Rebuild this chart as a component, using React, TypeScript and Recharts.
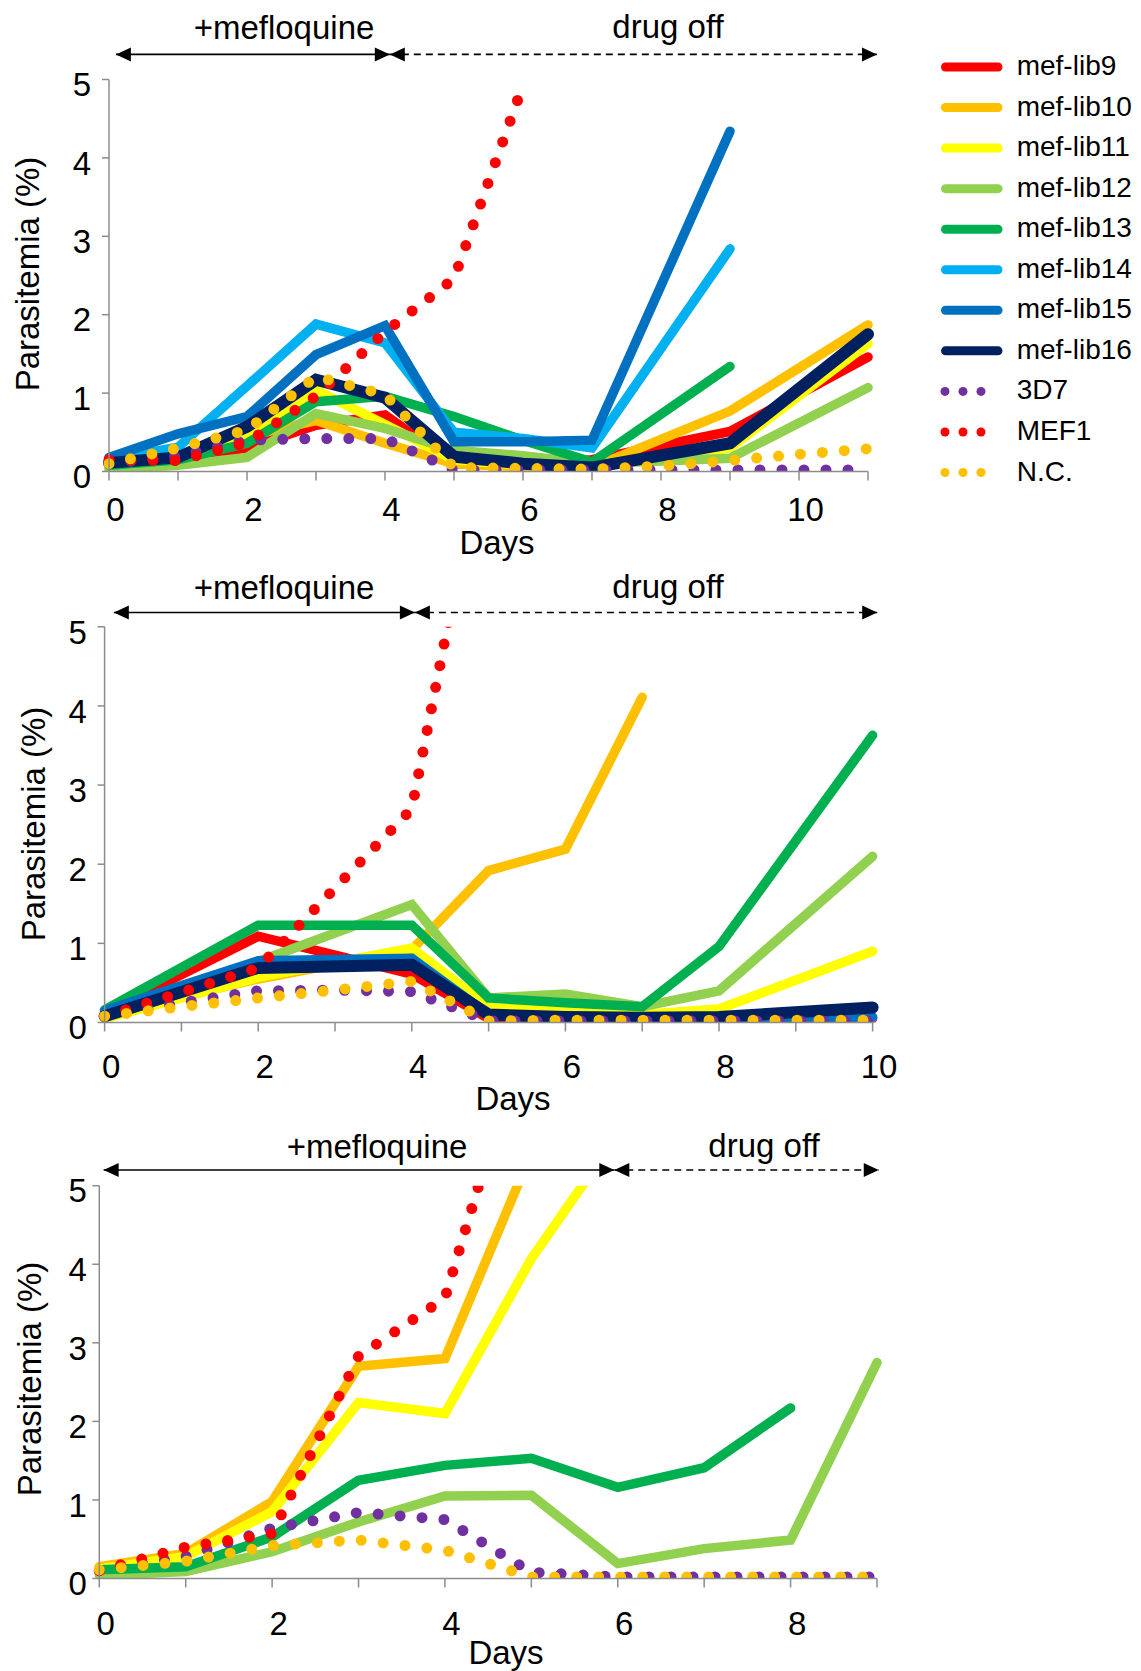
import React from 'react';
import { LineChart, Line, XAxis, YAxis, ReferenceLine, ReferenceDot } from 'recharts';

const FONT = '"Liberation Sans", Arial, Helvetica, sans-serif';
const AXIS_COLOR = '#8c8c8c';

// ---------- series meta ----------
const seriesKeys = ['lib9', 'lib10', 'lib11', 'lib12', 'lib13', 'lib14', 'lib15', 'lib16', 'd3d7', 'mef1', 'nc'];
const seriesNames = ['mef-lib9', 'mef-lib10', 'mef-lib11', 'mef-lib12', 'mef-lib13', 'mef-lib14', 'mef-lib15', 'mef-lib16', '3D7', 'MEF1', 'N.C.'];
const seriesColors = ['#FF0000', '#FFC000', '#FFFF00', '#92D050', '#00B050', '#00B0F0', '#0070C0', '#002060', '#7030A0', '#FF0000', '#FFC000'];
const seriesDotted = [false, false, false, false, false, false, false, false, true, true, true];

// ---------- panel 1 (days 0..11) ----------
const p1Days = [0, 1, 2, 3, 4, 5, 6, 7, 8, 9, 10, 11];
const p1XTicks = [0, 1, 2, 3, 4, 5, 6, 7, 8, 9, 10, 11];
const p1XLabels = [0, 2, 4, 6, 8, 10];
const p1Lib9 = [0.15, 0.15, 0.3, 0.59, 0.72, 0.1, 0.07, 0.15, null, 0.51, null, 1.46];
const p1Lib10 = [0.1, 0.15, 0.45, 0.65, 0.36, 0.1, 0.06, 0.05, null, 0.77, null, 1.87];
const p1Lib11 = [0.03, 0.1, 0.45, 1.04, 0.6, 0.15, 0.08, 0.05, null, 0.3, null, 1.63];
const p1Lib12 = [0.03, 0.08, 0.18, 0.74, 0.55, 0.27, 0.2, 0.1, null, 0.17, null, 1.07];
const p1Lib13 = [0.08, 0.15, 0.36, 0.89, 0.96, 0.7, 0.4, 0.12, null, 1.34, null, null];
const p1Lib14 = [0.15, 0.31, 1.09, 1.88, 1.64, 0.5, 0.42, 0.3, null, 2.84, null, null];
const p1Lib15 = [0.18, 0.48, 0.7, 1.49, 1.86, 0.38, 0.38, 0.4, null, 4.34, null, null];
const p1Lib16 = [0.11, 0.18, 0.57, 1.17, 0.94, 0.19, 0.1, 0.05, null, 0.36, null, 1.75];
const p1D3D7 = [0.1, 0.2, 0.4, 0.42, 0.42, 0.02, 0.02, 0.02, 0.02, 0.02, 0.02, 0.02];
const p1Mef1 = [0.15, 0.14, 0.37, 0.96, 1.78, 2.46, 4.93, null, null, null, null, null];
const p1Nc = [0.1, 0.3, 0.53, 1.21, 0.98, 0.05, 0.04, 0.03, 0.07, 0.14, 0.22, 0.29];

// ---------- panel 2 (days 0..10) ----------
const p2Days = [0, 1, 2, 3, 4, 5, 6, 7, 8, 9, 10];
const p2XTicks = [0, 1, 2, 3, 4, 5, 6, 7, 8, 9, 10];
const p2XLabels = [0, 2, 4, 6, 8, 10];
const p2Lib9 = [0.12, null, 1.09, 0.85, 0.61, 0.05, 0.04, 0.04, 0.04, null, 0.05];
const p2Lib10 = [0.1, null, 0.55, null, 0.92, 1.92, 2.19, 4.11, null, null, null];
const p2Lib11 = [0.05, null, 0.57, null, 0.94, 0.2, 0.15, 0.1, 0.17, null, 0.9];
const p2Lib12 = [0.13, null, 0.77, null, 1.49, 0.31, 0.36, 0.2, 0.4, null, 2.1];
const p2Lib13 = [0.16, null, 1.23, null, 1.23, 0.31, 0.25, 0.2, 0.96, null, 3.63];
const p2Lib14 = [0.14, null, 0.74, null, 0.78, 0.08, 0.07, 0.06, 0.06, null, 0.06];
const p2Lib15 = [0.15, null, 0.78, null, 0.81, 0.1, 0.08, 0.07, 0.06, null, 0.07];
const p2Lib16 = [0.08, null, 0.69, null, 0.73, 0.1, 0.07, 0.06, 0.07, null, 0.19];
const p2D3D7 = [0.08, 0.25, 0.4, 0.41, 0.39, 0.02, 0.02, 0.02, 0.02, 0.02, 0.02];
const p2Mef1 = [0.08, 0.38, 0.69, 1.7, 2.7, 7.65, null, null, null, null, null];
const p2Nc = [0.08, 0.2, 0.31, 0.41, 0.52, 0.02, 0.03, 0.03, 0.03, 0.03, 0.03];

// ---------- panel 3 (days 0..9) ----------
const p3Days = [0, 1, 2, 3, 4, 5, 6, 7, 8, 9];
const p3XTicks = [0, 1, 2, 3, 4, 5, 6, 7, 8, 9];
const p3XLabels = [0, 2, 4, 6, 8];
const p3Lib10 = [0.15, 0.32, 0.98, 2.7, 2.8, 5.42, null, null, null, null];
const p3Lib11 = [0.12, 0.28, 0.85, 2.24, 2.1, 4.07, 5.65, null, null, null];
const p3Lib12 = [0.04, 0.09, 0.34, 0.72, 1.05, 1.06, 0.19, 0.38, 0.49, 2.75];
const p3Lib13 = [0.11, 0.15, 0.53, 1.25, 1.44, 1.53, 1.16, 1.41, 2.17, null];
const p3D3D7 = [0.1, 0.28, 0.64, 0.84, 0.75, 0.08, 0.02, 0.02, 0.02, 0.02];
const p3Mef1 = [0.1, 0.4, 0.57, 2.83, 3.57, 7.24, null, null, null, null];
const p3Nc = [0.11, 0.22, 0.42, 0.49, 0.36, 0.02, 0.02, 0.02, 0.02, 0.02];

const yTicks = [0, 1, 2, 3, 4, 5];

// treatment period annotations (in day / parasitemia units)
const p1Arrow = { y: 5.32, left: 0.1, mid: 4.07, right: 11.13 };
const p2Arrow = { y: 5.18, left: 0.12, mid: 4.04, right: 10.06 };
const p3Arrow = { y: 5.2, left: 0.05, mid: 5.96, right: 9.02 };

type Col = (number | null)[];

function buildRows(days: number[], cols: Record<string, Col>) {
  return days.map((day, i) => {
    const row: Record<string, number | null> = { day };
    Object.keys(cols).forEach((k) => {
      const v = cols[k][i];
      row[k] = v === undefined ? null : v;
    });
    return row;
  });
}

const p1Cols: Record<string, Col> = {
  lib9: p1Lib9, lib10: p1Lib10, lib11: p1Lib11, lib12: p1Lib12, lib13: p1Lib13,
  lib14: p1Lib14, lib15: p1Lib15, lib16: p1Lib16, d3d7: p1D3D7, mef1: p1Mef1, nc: p1Nc,
};
const p2Cols: Record<string, Col> = {
  lib9: p2Lib9, lib10: p2Lib10, lib11: p2Lib11, lib12: p2Lib12, lib13: p2Lib13,
  lib14: p2Lib14, lib15: p2Lib15, lib16: p2Lib16, d3d7: p2D3D7, mef1: p2Mef1, nc: p2Nc,
};
const p3Cols: Record<string, Col> = {
  lib10: p3Lib10, lib11: p3Lib11, lib12: p3Lib12, lib13: p3Lib13,
  d3d7: p3D3D7, mef1: p3Mef1, nc: p3Nc,
};

function arrowHead(cx: number, cy: number, dir: 'left' | 'right') {
  const L = 15;
  const H = 7;
  const bx = dir === 'left' ? cx + L : cx - L;
  return <polygon points={`${cx},${cy} ${bx},${cy - H} ${bx},${cy + H}`} fill="#000" />;
}

type PanelProps = {
  top: number;
  height: number;
  cols: Record<string, Col>;
  days: number[];
  xTicks: number[];
  xLabels: number[];
  xMax: number;
  margin: { top: number; right: number; bottom: number; left: number };
  xTickMargin: number;
  yTickMargin: number;
  arrow: { y: number; left: number; mid: number; right: number };
};

function Panel(p: PanelProps) {
  const rows = buildRows(p.days, p.cols);
  const renderXTick = (props: any) => {
    const { x, y, payload } = props;
    if (!p.xLabels.includes(payload.value)) return <g />;
    return (
      <text x={x + 6.5} y={y} dy="0.71em" textAnchor="middle" fontSize={33} fontFamily={FONT} fill="#000">
        {payload.value}
      </text>
    );
  };
  const renderYTick = (props: any) => {
    const { x, y, payload } = props;
    return (
      <text x={x} y={y + 5} dy="0.355em" textAnchor="end" fontSize={33} fontFamily={FONT} fill="#000">
        {payload.value}
      </text>
    );
  };
  const a = p.arrow;
  return (
    <div style={{ position: 'absolute', left: 0, top: p.top }}>
      <LineChart width={1141} height={p.height} data={rows} margin={p.margin}>
        <XAxis
          type="number"
          dataKey="day"
          domain={[0, p.xMax]}
          ticks={p.xTicks}
          interval={0}
          height={60}
          tickSize={9}
          tickMargin={p.xTickMargin}
          axisLine={{ stroke: AXIS_COLOR, strokeWidth: 1.5 }}
          tickLine={{ stroke: AXIS_COLOR, strokeWidth: 1.5 }}
          tick={renderXTick}
        />
        <YAxis
          type="number"
          domain={[0, 5]}
          allowDataOverflow
          ticks={yTicks}
          interval={0}
          width={60}
          tickSize={7}
          tickMargin={p.yTickMargin}
          axisLine={{ stroke: AXIS_COLOR, strokeWidth: 1.5 }}
          tickLine={{ stroke: AXIS_COLOR, strokeWidth: 1.5 }}
          tick={renderYTick}
        />
        {seriesKeys.map((k, i) =>
          p.cols[k] ? (
            <Line
              key={k}
              dataKey={k}
              name={seriesNames[i]}
              type="linear"
              stroke={seriesColors[i]}
              strokeWidth={seriesDotted[i] ? 11 : k === 'lib16' ? 12 : 9.5}
              strokeDasharray={seriesDotted[i] ? '0 22' : undefined}
              strokeLinecap="round"
              dot={false}
              activeDot={false}
              connectNulls
              isAnimationActive={false}
            />
          ) : null
        )}
        <ReferenceLine
          segment={[{ x: a.left, y: a.y }, { x: a.mid, y: a.y }]}
          stroke="#000"
          strokeWidth={1.6}
          ifOverflow="visible"
        />
        <ReferenceLine
          segment={[{ x: a.mid, y: a.y }, { x: a.right, y: a.y }]}
          stroke="#000"
          strokeWidth={1.6}
          strokeDasharray="7 5"
          ifOverflow="visible"
        />
        <ReferenceDot x={a.left} y={a.y} r={7} ifOverflow="visible" shape={(s: any) => arrowHead(s.cx, s.cy, 'left')} />
        <ReferenceDot x={a.mid} y={a.y} r={7} ifOverflow="visible" shape={(s: any) => arrowHead(s.cx, s.cy, 'right')} />
        <ReferenceDot x={a.mid} y={a.y} r={7} ifOverflow="visible" shape={(s: any) => arrowHead(s.cx, s.cy, 'left')} />
        <ReferenceDot x={a.right} y={a.y} r={7} ifOverflow="visible" shape={(s: any) => arrowHead(s.cx, s.cy, 'right')} />
      </LineChart>
    </div>
  );
}

function Overlay() {
  const t = { fontFamily: FONT, fill: '#000' } as const;
  const legendTop = 67;
  const legendStep = 40.55;
  return (
    <svg
      width={1141}
      height={1671}
      style={{ position: 'absolute', left: 0, top: 0, pointerEvents: 'none' }}
    >
      {/* panel 1 */}
      <text x={284} y={38.6} fontSize={33} textAnchor="middle" {...t}>+mefloquine</text>
      <text x={668} y={37.5} fontSize={33} textAnchor="middle" {...t}>drug off</text>
      <text x={497} y={554} fontSize={33} textAnchor="middle" {...t}>Days</text>
      <text transform="translate(39,274) rotate(-90)" fontSize={33} textAnchor="middle" {...t}>Parasitemia (%)</text>
      {/* panel 2 */}
      <text x={284} y={598.6} fontSize={33} textAnchor="middle" {...t}>+mefloquine</text>
      <text x={668} y={597.5} fontSize={33} textAnchor="middle" {...t}>drug off</text>
      <text x={513} y={1110} fontSize={33} textAnchor="middle" {...t}>Days</text>
      <text transform="translate(45,824) rotate(-90)" fontSize={33} textAnchor="middle" {...t}>Parasitemia (%)</text>
      {/* panel 3 */}
      <text x={377} y={1158} fontSize={33} textAnchor="middle" {...t}>+mefloquine</text>
      <text x={764} y={1157} fontSize={33} textAnchor="middle" {...t}>drug off</text>
      <text x={506} y={1664} fontSize={33} textAnchor="middle" {...t}>Days</text>
      <text transform="translate(41,1379) rotate(-90)" fontSize={33} textAnchor="middle" {...t}>Parasitemia (%)</text>
      {/* legend */}
      {seriesKeys.map((k, i) => {
        const cy = legendTop + i * legendStep;
        return (
          <g key={k}>
            {seriesDotted[i] ? (
              <g>
                <circle cx={945} cy={cy} r={4.5} fill={seriesColors[i]} />
                <circle cx={963} cy={cy} r={4.5} fill={seriesColors[i]} />
                <circle cx={981} cy={cy} r={4.5} fill={seriesColors[i]} />
              </g>
            ) : (
              <line x1={945.5} x2={998} y1={cy} y2={cy} stroke={seriesColors[i]} strokeWidth={9} strokeLinecap="round" />
            )}
            <text x={1016.7} y={cy + 8} fontSize={28} {...t}>{seriesNames[i]}</text>
          </g>
        );
      })}
    </svg>
  );
}

export default function App() {
  return (
    <div
      style={{
        position: 'absolute',
        left: 0,
        top: 0,
        width: 1141,
        height: 1671,
        background: '#fff',
        fontFamily: FONT,
        overflow: 'hidden',
      }}
    >
      <Panel
        top={0}
        height={560}
        cols={p1Cols}
        days={p1Days}
        xTicks={p1XTicks}
        xLabels={p1XLabels}
        xMax={11}
        margin={{ top: 79.5, right: 273, bottom: 28.5, left: 49 }}
        xTickMargin={17.5}
        yTickMargin={11}
        arrow={p1Arrow}
      />
      <Panel
        top={560}
        height={560}
        cols={p2Cols}
        days={p2Days}
        xTicks={p2XTicks}
        xLabels={p2XLabels}
        xMax={10}
        margin={{ top: 66.8, right: 268.4, bottom: 37.5, left: 44.6 }}
        xTickMargin={23}
        yTickMargin={10.8}
        arrow={p2Arrow}
      />
      <Panel
        top={1120}
        height={551}
        cols={p3Cols}
        days={p3Days}
        xTicks={p3XTicks}
        xLabels={p3XLabels}
        xMax={9}
        margin={{ top: 65.7, right: 264, bottom: 32.5, left: 39.3 }}
        xTickMargin={24.4}
        yTickMargin={5.5}
        arrow={p3Arrow}
      />
      <Overlay />
    </div>
  );
}
